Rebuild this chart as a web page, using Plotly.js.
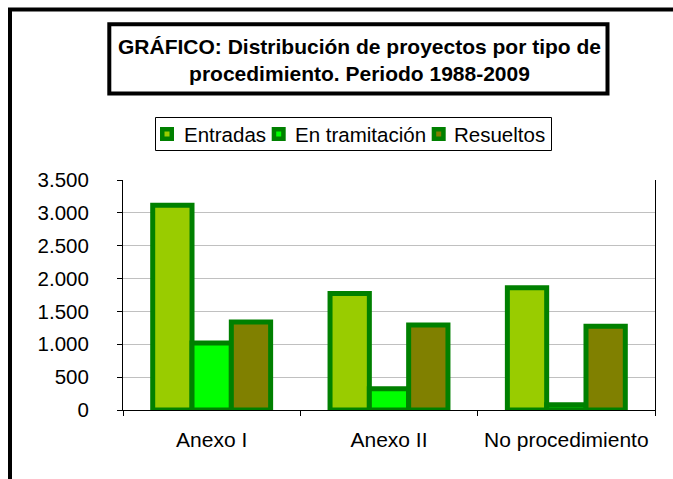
<!DOCTYPE html>
<html>
<head>
<meta charset="utf-8">
<script src="https://cdn.plot.ly/plotly-3.0.1.min.js"></script>
<style>html,body{margin:0;padding:0;background:#fff}#chart{width:673px;height:479px}</style>
</head>
<body>
<div id="chart"></div>
<script>
// ---- data ----
const categories = ["Anexo I", "Anexo II", "No procedimiento"];
const seriesNames = ["Entradas", "En tramitación", "Resueltos"];
const entradas = [3115, 1772, 1859];
const enTramitacion = [1019, 322, 80];
const resueltos = [1340, 1294, 1274];
const yTickValues = [0, 500, 1000, 1500, 2000, 2500, 3000, 3500];
const titleText = "GRÁFICO: Distribución de proyectos por tipo de<br>procedimiento. Periodo 1988-2009";

// ---- styling ----
const FONT = "Liberation Sans, Arial, sans-serif";
const fills = ["#99CC00", "#00FF00", "#808000"];
const edge = "#008000";
const W = 673, H = 479;
const M = {l: 123, r: 18, t: 180, b: 69};
const PW = W - M.l - M.r, PH = H - M.t - M.b;
const px = x => (x - M.l) / PW;
const py = y => (H - M.b - y) / PH;

const seriesValues = [entradas, enTramitacion, resueltos];
const traces = seriesNames.map((name, i) => ({
  type: "bar",
  name: name,
  x: categories,
  y: seriesValues[i],
  marker: {color: fills[i], line: {color: edge, width: 5}},
  showlegend: false
}));

// custom legend (positions in px)
const legendMarkerX = [160, 271.7, 431.7];
const legendTextX = [182, 293, 452];
const legendY = 134;
const shapes = [
  // outer chart frame
  {type: "rect", xref: "paper", yref: "paper", x0: px(10), x1: px(720), y0: py(9.5), y1: py(520),
   line: {color: "#000", width: 4}, fillcolor: "rgba(0,0,0,0)", layer: "above"},
  // title box
  {type: "rect", xref: "paper", yref: "paper", x0: px(109.3), x1: px(607.5), y0: py(24.3), y1: py(93.5),
   line: {color: "#000", width: 4}, fillcolor: "rgba(0,0,0,0)"},
  // legend box
  {type: "rect", xref: "paper", yref: "paper", x0: px(155.5), x1: px(551.5), y0: py(117.5), y1: py(150.5),
   line: {color: "#000", width: 1}, fillcolor: "rgba(0,0,0,0)"}
];
const annotations = [
  {xref: "paper", yref: "paper", x: px(359), y: py(60), xanchor: "center", yanchor: "middle",
   text: "<b>" + titleText + "</b>", showarrow: false, align: "center",
   font: {family: FONT, size: 21, color: "#000"}}
];
seriesNames.forEach((name, i) => {
  const mx = legendMarkerX[i];
  shapes.push({type: "rect", xref: "paper", yref: "paper",
    x0: px(mx + 2.25), x1: px(mx + 11.75), y0: py(legendY - 4.75), y1: py(legendY + 4.75),
    line: {color: edge, width: 4.5}, fillcolor: fills[i]});
  annotations.push({xref: "paper", yref: "paper", x: px(legendTextX[i]), y: py(legendY),
    xanchor: "left", yanchor: "middle", text: name, showarrow: false,
    font: {family: FONT, size: 20.5, color: "#000"}});
});

const layout = {
  width: W, height: H,
  margin: M,
  paper_bgcolor: "#fff", plot_bgcolor: "#fff",
  separators: ",.",
  font: {family: FONT, size: 20, color: "#000"},
  barmode: "group", bargap: 0.335, bargroupgap: 0,
  showlegend: false,
  xaxis: {
    type: "category", showline: true, linecolor: "#000", linewidth: 1,
    ticks: "outside", tickson: "boundaries", ticklen: 5, tickcolor: "#000",
    showgrid: false, ticklabelstandoff: 11,
    tickfont: {family: FONT, size: 21, color: "#000"}
  },
  yaxis: {
    range: [0, 3500], tickvals: yTickValues, tickformat: ",d",
    showline: true, mirror: true, linecolor: "#000", linewidth: 1,
    ticks: "outside", ticklen: 5, tickcolor: "#000",
    showgrid: true, gridcolor: "#c0c0c0", gridwidth: 1, zeroline: false,
    ticklabelstandoff: 24,
    tickfont: {family: FONT, size: 20.5, color: "#000"}
  },
  shapes: shapes,
  annotations: annotations
};

Plotly.newPlot("chart", traces, layout, {displayModeBar: false, staticPlot: true});
</script>
</body>
</html>
